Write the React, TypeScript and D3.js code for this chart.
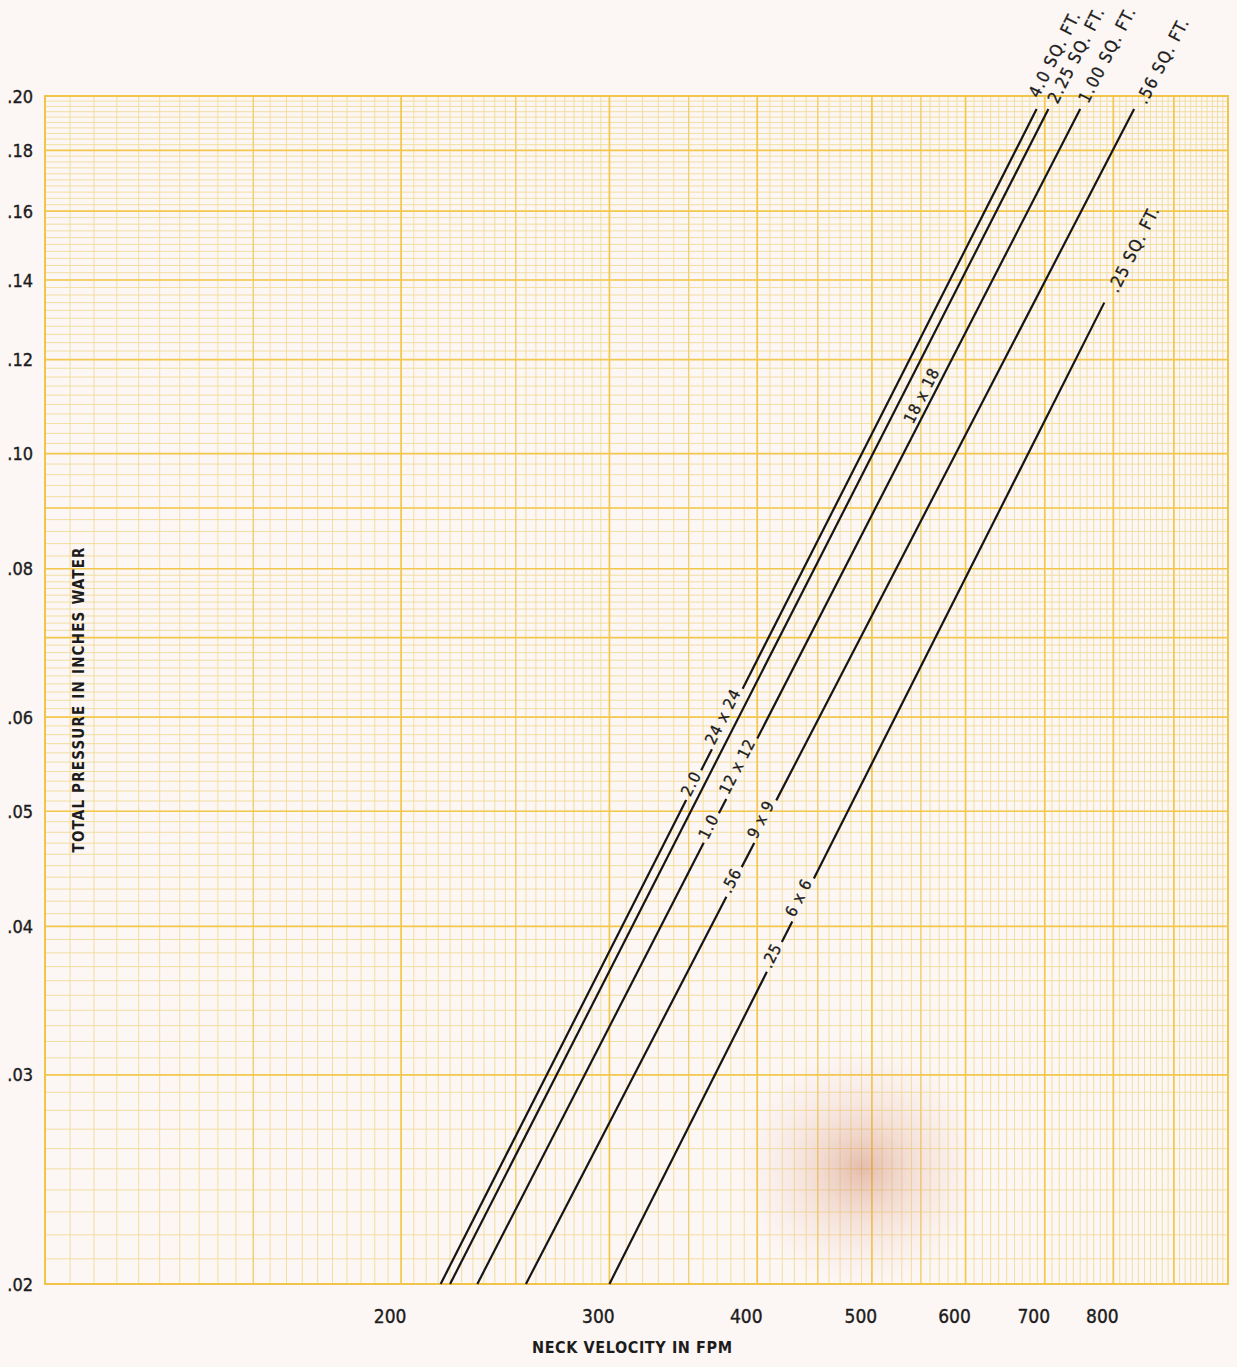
import React, { useEffect, useRef } from 'react';
import * as d3 from 'd3';

const W = 1237;
const H = 1367;

// one curve per neck area (sq ft), end points
const areas = ['4.0', '2.25', '1.00', '.56', '.25'];
const velStart = [216, 220, 232, 255, 300];
const presStart = [0.02, 0.02, 0.02, 0.02, 0.02];
const velEnd = [689, 705, 750, 833, 786];
const presEnd = [0.195, 0.195, 0.195, 0.195, 0.134];

// labels written along the curves
const inlineCurve = [0, 0, 2, 2, 3, 3, 4, 4, 1];
const inlineText = ['2.0', '24 x 24', '1.0', '12 x 12', '.56', '9 x 9', '.25', '6 x 6', '18 x 18'];
const inlinePres = [0.0526, 0.0598, 0.0484, 0.0543, 0.0436, 0.0490, 0.0377, 0.0421, 0.1136];

const yTicks = [0.02, 0.03, 0.04, 0.05, 0.06, 0.08, 0.1, 0.12, 0.14, 0.16, 0.18, 0.2];
const xTicks = [200, 300, 400, 500, 600, 700, 800];

// layout tweaks for the labels (pixels)
const inlineShift = [-3, -5, -3, -5, -3, -5, -3, -5, 17];
const topAlong = [10, 8, 8, 9, 14];
const topPerp = [-3, 6, 5, 9, 8];

const FONT = "'Liberation Sans Narrow', 'DejaVu Sans Condensed', 'Arial Narrow', sans-serif";
const INK = '#1c1c1c';

const App = () => {
  const svgRef = useRef(null);

  useEffect(() => {
    const svg = d3.select(svgRef.current);
    svg.selectAll('*').remove();

    const x = d3.scaleLog().domain([100, 1000]).range([45, 1228]);
    const y = d3.scaleLog().domain([0.02, 0.2]).range([1284, 96]);

    const defs = svg.append('defs');
    const grad = defs.append('radialGradient').attr('id', 'stain');
    grad.append('stop').attr('offset', '0%').attr('stop-color', 'rgb(200,120,85)').attr('stop-opacity', 0.45);
    grad.append('stop').attr('offset', '45%').attr('stop-color', 'rgb(220,155,125)').attr('stop-opacity', 0.22);
    grad.append('stop').attr('offset', '100%').attr('stop-color', 'rgb(240,205,195)').attr('stop-opacity', 0);

    svg.append('rect').attr('width', W).attr('height', H).attr('fill', '#fcf6f5');

    // log-log paper
    const [x0, x1] = x.range();
    const [y0, y1] = y.range();
    const grid = svg.append('g');

    const minorX = [...d3.range(100, 300, 5), ...d3.range(300, 1000, 10)];
    const midX = [150, 250, 350, 450, 550];
    const majorX = [200, 300, 400, 500, 600, 700, 800, 900];
    const minorY = [...d3.range(20, 80, 1), ...d3.range(80, 200, 2)].map(v => v / 1000);
    const majorY = [0.03, 0.04, 0.05, 0.06, 0.07, 0.08, 0.09, 0.1, 0.12, 0.14, 0.16, 0.18];

    grid.selectAll('line.mx').data(minorX).join('line')
      .attr('x1', d => x(d)).attr('x2', d => x(d)).attr('y1', y0).attr('y2', y1)
      .attr('stroke', '#f0da92').attr('stroke-width', 0.85);
    grid.selectAll('line.my').data(minorY).join('line')
      .attr('y1', d => y(d)).attr('y2', d => y(d)).attr('x1', x0).attr('x2', x1)
      .attr('stroke', '#f0da92').attr('stroke-width', 0.85);
    grid.selectAll('line.dx').data(midX).join('line')
      .attr('x1', d => x(d)).attr('x2', d => x(d)).attr('y1', y0).attr('y2', y1)
      .attr('stroke', '#f1cf6c').attr('stroke-width', 1.3);
    grid.selectAll('line.jx').data(majorX).join('line')
      .attr('x1', d => x(d)).attr('x2', d => x(d)).attr('y1', y0).attr('y2', y1)
      .attr('stroke', '#f3c84e').attr('stroke-width', 1.7);
    grid.selectAll('line.jy').data(majorY).join('line')
      .attr('y1', d => y(d)).attr('y2', d => y(d)).attr('x1', x0).attr('x2', x1)
      .attr('stroke', '#f3c84e').attr('stroke-width', 1.7);
    grid.append('rect')
      .attr('x', x0).attr('y', y1).attr('width', x1 - x0).attr('height', y0 - y1)
      .attr('fill', 'none').attr('stroke', '#f1c54a').attr('stroke-width', 2);

    svg.append('ellipse')
      .attr('cx', 862).attr('cy', 1168).attr('rx', 125).attr('ry', 120)
      .attr('fill', 'url(#stain)');

    // axis labels
    svg.append('g').selectAll('text').data(yTicks).join('text')
      .attr('x', 33).attr('y', d => y(d))
      .attr('text-anchor', 'end').attr('dominant-baseline', 'central')
      .attr('font-family', FONT).attr('font-size', 18).attr('fill', INK)
      .attr('stroke', INK).attr('stroke-width', 0.35)
      .text(d => d3.format('.2f')(d).replace(/^0/, ''));

    svg.append('g').selectAll('text').data(xTicks).join('text')
      .attr('x', d => x(d) - 11).attr('y', 1316)
      .attr('text-anchor', 'middle').attr('dominant-baseline', 'central')
      .attr('font-family', FONT).attr('font-size', 19).attr('fill', INK)
      .attr('stroke', INK).attr('stroke-width', 0.35)
      .text(d => d);

    svg.append('text')
      .attr('x', 632).attr('y', 1347)
      .attr('text-anchor', 'middle').attr('dominant-baseline', 'central')
      .attr('font-family', FONT).attr('font-size', 16).attr('font-weight', 'bold')
      .attr('textLength', 200).attr('lengthAdjust', 'spacing').attr('fill', INK)
      .text('NECK VELOCITY IN FPM');

    svg.append('text')
      .attr('transform', 'translate(79,700) rotate(-90)')
      .attr('text-anchor', 'middle').attr('dominant-baseline', 'central')
      .attr('font-family', FONT).attr('font-size', 15).attr('font-weight', 'bold')
      .attr('textLength', 305).attr('lengthAdjust', 'spacing').attr('fill', INK)
      .text('TOTAL PRESSURE IN INCHES WATER');

    // curves
    const curves = areas.map((a, i) => {
      const sx = x(velStart[i]), sy = y(presStart[i]);
      const ex = x(velEnd[i]), ey = y(presEnd[i]);
      const len = Math.hypot(ex - sx, ey - sy);
      const ux = (ex - sx) / len, uy = (ey - sy) / len;
      return { sx, sy, ex, ey, len, ux, uy, px: -uy, py: ux, angle: Math.atan2(uy, ux) * 180 / Math.PI };
    });

    const labels = svg.append('g');
    const gaps = curves.map(() => []);

    inlineText.forEach((t, k) => {
      const i = inlineCurve[k];
      const c = curves[i];
      const f = Math.log(inlinePres[k] / presStart[i]) / Math.log(presEnd[i] / presStart[i]);
      const s = f * c.len;
      const cx = c.sx + c.ux * s + c.px * inlineShift[k];
      const cy = c.sy + c.uy * s + c.py * inlineShift[k];
      const node = labels.append('text')
        .attr('transform', `translate(${cx},${cy}) rotate(${c.angle})`)
        .attr('text-anchor', 'middle').attr('dominant-baseline', 'central')
        .attr('font-family', FONT).attr('font-size', 16).attr('letter-spacing', 0.8)
        .attr('fill', INK).attr('stroke', INK).attr('stroke-width', 0.3)
        .text(t);
      if (inlineShift[k] < 10) {
        const w = node.node().getComputedTextLength();
        gaps[i].push([s - w / 2 - 4, s + w / 2 + 4]);
      }
    });

    areas.forEach((a, i) => {
      const c = curves[i];
      const tx = c.ex + c.ux * topAlong[i] + c.px * topPerp[i];
      const ty = c.ey + c.uy * topAlong[i] + c.py * topPerp[i];
      labels.append('text')
        .attr('transform', `translate(${tx},${ty}) rotate(${c.angle})`)
        .attr('font-family', FONT).attr('font-size', 17).attr('letter-spacing', 1.2)
        .attr('fill', INK).attr('stroke', INK).attr('stroke-width', 0.3)
        .text(`${a} SQ. FT.`);
    });

    const lines = svg.append('g');
    curves.forEach((c, i) => {
      const cuts = gaps[i].slice().sort((p, q) => p[0] - q[0]);
      const pieces = [];
      let from = 0;
      cuts.forEach(([g0, g1]) => {
        pieces.push([from, g0]);
        from = g1;
      });
      pieces.push([from, c.len]);
      lines.selectAll(null).data(pieces.filter(p => p[1] > p[0])).join('line')
        .attr('x1', p => c.sx + c.ux * p[0]).attr('y1', p => c.sy + c.uy * p[0])
        .attr('x2', p => c.sx + c.ux * p[1]).attr('y2', p => c.sy + c.uy * p[1])
        .attr('stroke', '#161616').attr('stroke-width', 2.2);
    });
  }, []);

  return (
    <svg ref={svgRef} width={W} height={H} style={{ position: 'absolute', left: 0, top: 0, display: 'block' }} />
  );
};

export default App;
